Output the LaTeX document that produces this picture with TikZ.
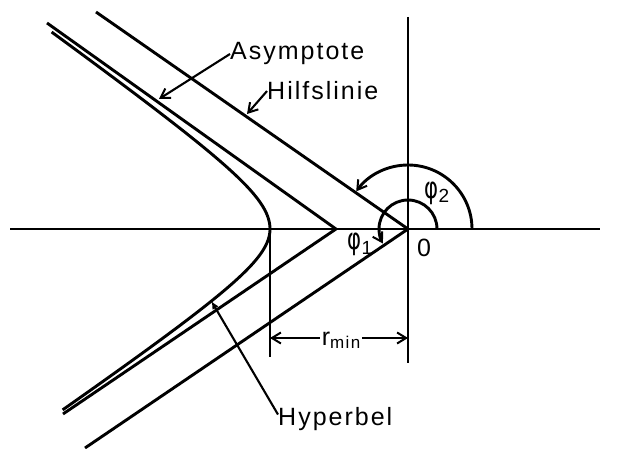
\documentclass[tikz,border=0pt]{standalone}
\usepackage{fontspec}
\setmainfont[LetterSpace=8]{Liberation Sans}
\newfontfamily\phifont{DejaVu Sans}
\usetikzlibrary{arrows.meta}
\newcommand{\phig}{\scalebox{0.85}[1.2]{\phifont φ}}
\tikzset{
  main/.style={line width=2.9pt},
  thinl/.style={line width=2.1pt},
  barb/.style={-{Straight Barb[length=9pt,width=11pt,line width=2pt]}},
  lbl/.style={inner sep=0pt, font=\fontsize{25}{29}\selectfont},
}
\begin{document}
\begin{tikzpicture}[x=1pt,y=-1pt,line join=round]
\useasboundingbox (0,0) rectangle (626,449);
% key points
\coordinate (O) at (408,229);
\coordinate (A) at (336,229);
\coordinate (V) at (270,229);
\coordinate (xl) at (10,229);
\coordinate (xr) at (600,229);
\coordinate (yt) at (408,17);
\coordinate (yb) at (408,363);
\coordinate (hu) at (96,12);
\coordinate (hd) at (85,448);
\coordinate (au) at (47,23);
\coordinate (ad) at (63,414);
\coordinate (vb) at (270,357);
\coordinate (d1) at (270,338);
\coordinate (d2) at (408,338);
\coordinate (asyT) at (159,99);
\coordinate (hilT) at (247,114);
\coordinate (hypT) at ({336-66*cosh(1.25)},{229+45*sinh(1.25)});
% axes
\draw[main] (xl) -- (xr);
\draw[thinl] (yt) -- (yb);
% Hilfslinie
\draw[main] (hu) -- (O) -- (hd);
% asymptotes
\draw[main] (au) -- (A) -- (ad);
% hyperbola
\draw[main] plot[domain=-2.14:0, samples=60, smooth, variable=\t] ({336-66*cosh(\t)},{229+47*sinh(\t)});
\draw[main] plot[domain=0:2.10, samples=60, smooth, variable=\t] ({336-66*cosh(\t)},{229+45*sinh(\t)});
% r_min
\draw[thinl] (V) -- (vb);
\node[lbl, anchor=base, inner sep=2pt] (rmin) at (341,345) {r\raisebox{-3pt}{\fontsize{17}{17}\selectfont min}};
\draw[thinl, barb] (rmin.west |- d1) -- (d1);
\draw[thinl, barb] (rmin.east |- d2) -- (d2);
% angles
\draw[main, barb] (472,229) arc[start angle=0, end angle=-144, radius=64];
\draw[main, barb] (437,229) arc[start angle=0, end angle=-210, radius=29];
\node[lbl] (p2) at (437,193) {\phig\raisebox{-4pt}{\fontsize{19}{19}\selectfont 2}};
\node[lbl] (p1) at (360,244) {\phig\raisebox{-5pt}{\fontsize{19}{19}\selectfont 1}};
\node[lbl, anchor=base west] (zero) at (417,256) {0};
% labels
\node[lbl, anchor=base west] (asy) at (230,60) {Asymptote};
\node[lbl, anchor=base west] (hil) at (267,100) {Hilfslinie};
\node[lbl, anchor=base west] (hyp) at (278,425) {Hyperbel};
\draw[thinl, barb] (asy.west) -- (asyT);
\draw[thinl, barb] (hil.west) -- (hilT);
\draw[thinl, -{Latex[length=8pt,width=7pt]}] ([yshift=4pt]hyp.west) -- (hypT);
\end{tikzpicture}
\end{document}
